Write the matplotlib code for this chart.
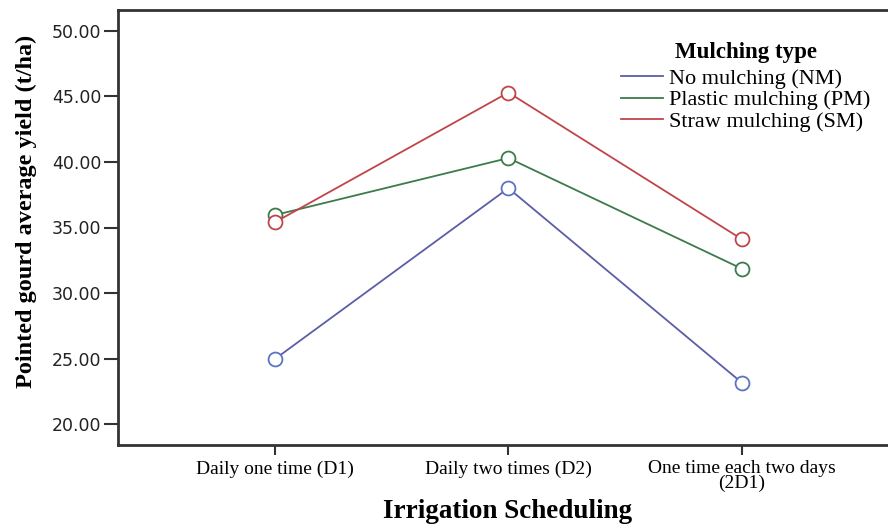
import matplotlib.pyplot as plt
import numpy as np

categories = ["Daily one time (D1)", "Daily two times (D2)", "One time each two days\n(2D1)"]
series_names = ["No mulching (NM)", "Plastic mulching (PM)", "Straw mulching (SM)"]
nm_yield = [24.96, 38.0, 23.15]
pm_yield = [35.95, 40.3, 31.85]
sm_yield = [35.4, 45.3, 34.1]
y_ticks = [20, 25, 30, 35, 40, 45, 50]

line_colors = ["#5b5ea6", "#3d7a4c", "#c0454a"]
marker_colors = ["#5a74c4", "#3d7a4c", "#c0454a"]

fig = plt.figure(figsize=(8.88, 5.24), dpi=100)
ax = fig.add_axes([118 / 888, 79 / 524, 782 / 888, 435 / 524])

x = np.arange(len(categories))
for vals, name, lc, mc in zip([nm_yield, pm_yield, sm_yield], series_names, line_colors, marker_colors):
    ax.plot(x, vals, color=lc, lw=1.3, label=name)
    ax.plot(x, vals, ls="none", marker="o", ms=10, mfc="white", mec=mc, mew=1.3)

ax.set_xlim(-0.672, 2.677)
ax.set_ylim(18.4, 51.6)
ax.set_yticks(y_ticks)
ax.set_yticklabels(["%.2f" % v for v in y_ticks], family="DejaVu Sans", fontsize=12.5, color="#222222")
ax.set_xticks(x)
ax.set_xticklabels(categories, family="Liberation Serif", fontsize=14, linespacing=0.8)
ax.tick_params(axis="y", length=10, width=1.5, color="#333333", pad=2)
ax.tick_params(axis="x", length=7, width=1.5, color="#333333", pad=4)
for s in ax.spines.values():
    s.set_linewidth(2)
    s.set_color("#333333")

ax.set_ylabel("Pointed gourd average yield (t/ha)", family="Liberation Serif",
              fontsize=17.5, fontweight="bold")
ax.yaxis.set_label_coords(-0.103, 0.536)
fig.text(508 / 888, 1 - 512 / 524, "Irrigation Scheduling", family="Liberation Serif",
         fontsize=19.5, fontweight="bold", ha="center", va="center")

leg = ax.legend(loc="upper left", bbox_to_anchor=(0.629, 0.953), frameon=False,
                title="Mulching type", prop={"family": "Liberation Serif", "size": 16},
                handlelength=1.9, handletextpad=0.25, labelspacing=0.05, borderpad=0)
leg.get_title().set_fontfamily("Liberation Serif")
leg.get_title().set_fontweight("bold")
leg.get_title().set_fontsize(16.5)
leg._legend_box.sep = 4

fig.savefig("out.png", dpi=100)
